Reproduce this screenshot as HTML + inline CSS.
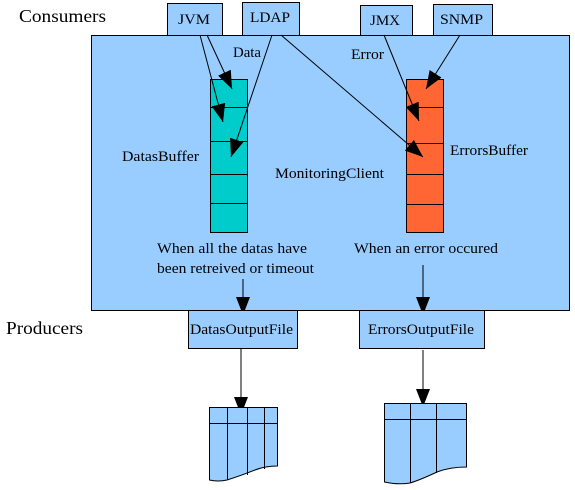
<!DOCTYPE html>
<html><head><meta charset="utf-8"><style>
html,body{margin:0;padding:0;background:#fff;}
svg{display:block;font-family:"Liberation Serif",serif;}
</style></head><body>
<svg width="575" height="490" viewBox="0 0 575 490" xmlns="http://www.w3.org/2000/svg">
<defs>
<marker id="a" viewBox="0 0 18 14" refX="18" refY="7" markerWidth="18" markerHeight="14" markerUnits="userSpaceOnUse" orient="auto">
<path d="M0,0 L18,7 L0,14 z" fill="#000"/>
</marker>
</defs>
<text x="19" y="22" font-size="18" textLength="87" lengthAdjust="spacingAndGlyphs">Consumers</text>
<text x="6" y="334" font-size="18" textLength="77" lengthAdjust="spacingAndGlyphs">Producers</text>
<rect x="91.5" y="35.5" width="478" height="275" fill="#99ccff" stroke="#000" stroke-width="1"/>
<g fill="#99ccff" stroke="#000">
<rect x="167.5" y="3.5" width="55" height="32"/>
<rect x="242.5" y="2.5" width="57" height="33"/>
<rect x="360.5" y="5.5" width="52" height="30"/>
<rect x="433.5" y="4.5" width="59" height="31"/>
</g>
<g font-size="15">
<text x="178" y="24" textLength="32" lengthAdjust="spacingAndGlyphs">JVM</text>
<text x="250" y="22" textLength="40" lengthAdjust="spacingAndGlyphs">LDAP</text>
<text x="370" y="25" textLength="30" lengthAdjust="spacingAndGlyphs">JMX</text>
<text x="440" y="24" textLength="43" lengthAdjust="spacingAndGlyphs">SNMP</text>
</g>
<g stroke="#000">
<rect x="210.5" y="79.5" width="37" height="153" fill="#00cccc"/>
<line x1="210" y1="107.5" x2="247" y2="107.5"/>
<line x1="210" y1="141.5" x2="247" y2="141.5"/>
<line x1="210" y1="174.5" x2="247" y2="174.5"/>
<line x1="210" y1="203.5" x2="247" y2="203.5"/>
<rect x="406.5" y="79.5" width="37" height="153" fill="#ff6633"/>
<line x1="406" y1="107.5" x2="443" y2="107.5"/>
<line x1="406" y1="143.5" x2="443" y2="143.5"/>
<line x1="406" y1="174.5" x2="443" y2="174.5"/>
<line x1="406" y1="204.5" x2="443" y2="204.5"/>
</g>
<g font-size="15">
<text x="233" y="57" textLength="28" lengthAdjust="spacingAndGlyphs">Data</text>
<text x="351" y="59" textLength="33" lengthAdjust="spacingAndGlyphs">Error</text>
<text x="122" y="161" textLength="77" lengthAdjust="spacingAndGlyphs">DatasBuffer</text>
<text x="275" y="178" textLength="109" lengthAdjust="spacingAndGlyphs">MonitoringClient</text>
<text x="450" y="155" textLength="78" lengthAdjust="spacingAndGlyphs">ErrorsBuffer</text>
<text x="157" y="253" textLength="150" lengthAdjust="spacingAndGlyphs">When all the datas have</text>
<text x="157" y="273" textLength="157" lengthAdjust="spacingAndGlyphs">been retreived or timeout</text>
<text x="354" y="253" textLength="144" lengthAdjust="spacingAndGlyphs">When an error occured</text>
</g>
<g stroke="#000" stroke-width="1" fill="none" marker-end="url(#a)">
<line x1="200" y1="35" x2="223" y2="122"/>
<line x1="207" y1="35" x2="232" y2="89"/>
<line x1="272" y1="35" x2="231" y2="157"/>
<line x1="281" y1="35" x2="423" y2="157"/>
<line x1="384" y1="35" x2="419" y2="121"/>
<line x1="460" y1="35" x2="426" y2="89"/>
<line x1="243" y1="279" x2="243" y2="315"/>
<line x1="423" y1="265" x2="423" y2="315"/>
<line x1="241" y1="349" x2="241" y2="415"/>
<line x1="423" y1="350" x2="423" y2="407"/>
</g>
<g fill="#99ccff" stroke="#000">
<rect x="188.5" y="310.5" width="109" height="38"/>
<rect x="359.5" y="310.5" width="125" height="38"/>
</g>
<g font-size="15">
<text x="190" y="334" textLength="103" lengthAdjust="spacingAndGlyphs">DatasOutputFile</text>
<text x="368" y="334" textLength="106" lengthAdjust="spacingAndGlyphs">ErrorsOutputFile</text>
</g>
<g stroke="#000" fill="#99ccff">
<path d="M209.5,407.5 H277.5 V466 Q265,466 255,470 Q240,476 227,480 Q218,482 209.5,480 Z"/>
<line x1="209" y1="423.5" x2="277" y2="423.5"/>
<line x1="227.5" y1="407" x2="227.5" y2="480"/>
<line x1="247.5" y1="407" x2="247.5" y2="475"/>
<line x1="264.5" y1="407" x2="264.5" y2="469"/>
<path d="M384.5,403.5 H466.5 V467 Q450,467 437,472 Q420,480 410,483 Q398,485 384.5,482 Z"/>
<line x1="384" y1="419.5" x2="466" y2="419.5"/>
<line x1="410.5" y1="403" x2="410.5" y2="483"/>
<line x1="436.5" y1="403" x2="436.5" y2="473"/>
</g>
</svg>
</body></html>
